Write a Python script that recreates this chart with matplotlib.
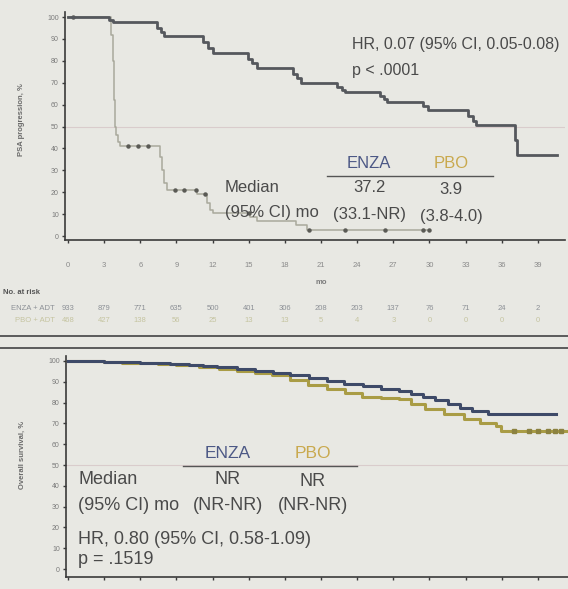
import numpy as np
import matplotlib
matplotlib.use("Agg")
import matplotlib.pyplot as plt
from matplotlib.lines import Line2D

plt.rcParams['font.family'] = ['Liberation Sans', 'DejaVu Sans']

# ---------------- data ----------------
# Top panel: PSA progression (KM steps)
psa_enza_t = [0, 3.4, 3.7, 7.4, 7.7, 8.0, 11.2, 11.6, 12.0, 14.9, 15.3, 15.7, 18.7, 19.0, 19.3,
              22.3, 22.7, 23.0, 25.9, 26.2, 26.5, 29.5, 29.9, 33.2, 33.6, 33.9, 37.1, 37.3, 40.6]
psa_enza_s = [100, 98.8, 97.7, 95, 93, 91.5, 88.5, 86, 83.7, 81, 79, 76.8, 74, 72, 69.8,
              68, 66.8, 65.6, 64, 62.5, 61.3, 59.5, 57.4, 55, 52.5, 50.5, 44, 37.2, 37.2]
psa_pbo_t = [0, 3.6, 3.7, 3.8, 3.9, 4.0, 4.15, 4.3, 7.6, 7.8, 8.0, 8.2, 10.7, 11.5, 11.8, 12.0,
             15.1, 15.7, 18.9, 19.8, 30.0]
psa_pbo_s = [100, 92, 80, 62, 50, 46, 43, 41, 36, 30, 24, 21, 19, 15, 12, 10.6,
             8.5, 6.7, 5.0, 2.6, 2.6]
psa_pbo_cens = [0.4, 5.0, 5.8, 6.6, 8.9, 9.6, 10.6, 11.4, 15.0, 20.0, 23.0, 26.3, 29.5, 30.0]

# Bottom panel: overall survival
os_enza_t = [0, 1.5, 3, 4.5, 6, 7.3, 8.5, 10, 11.2, 12.4, 14, 15.5, 17, 18.4, 20, 21.5, 22.9,
             24.5, 26, 27.5, 28.5, 29.5, 30.5, 31.5, 32.5, 33.5, 34.9, 40.5]
os_enza_s = [100, 99.8, 99.6, 99.4, 99.2, 99.0, 98.5, 98.0, 97.6, 97.3, 96.2, 95.2, 94.2, 93.1,
             91.7, 90.3, 89.0, 87.8, 86.6, 85.5, 84, 82.6, 81.2, 79.4, 77.6, 76, 74.3, 74.3]
os_pbo_t = [0, 1.5, 3, 4.5, 6, 7.5, 9, 10.9, 12.5, 14, 15.5, 16.9, 18.4, 19.9, 21.5, 23, 24.4,
            26, 27.5, 28.5, 29.6, 31.2, 32.9, 34.2, 35.5, 35.9, 41.5]
os_pbo_s = [100, 99.8, 99.5, 99.2, 98.9, 98.5, 97.9, 97.1, 96.2, 95.2, 94.2, 93.3, 91.0, 88.5,
            86.4, 84.5, 82.6, 82.2, 81.6, 79.4, 77.1, 74.5, 72.0, 70.3, 68.6, 66.2, 66.2]
os_pbo_cens = [37.0, 38.3, 39.0, 39.8, 40.4, 40.9]

x_ticks = [0, 3, 6, 9, 12, 15, 18, 21, 24, 27, 30, 33, 36, 39]
y_ticks = [0, 10, 20, 30, 40, 50, 60, 70, 80, 90, 100]
risk_enza = [933, 879, 771, 635, 500, 401, 306, 208, 203, 137, 76, 71, 24, 2]
risk_pbo = [468, 427, 138, 56, 25, 13, 13, 5, 4, 3, 0, 0, 0, 0]

# ---------------- styling ----------------
W, H = 568, 589
BG = '#e8e8e3'
TXT = '#4a4a4a'
C_ENZA_TXT = '#4c5885'
C_PBO_TXT = '#c9a94e'

fig = plt.figure(figsize=(W / 100, H / 100), dpi=100, facecolor=BG)

def fx(px):
    return px / W

def fy(py):
    return 1 - py / H

def step_val(t, s, q):
    i = np.searchsorted(np.asarray(t), q, side='right') - 1
    return np.asarray(s)[i]

def style_axes(ax):
    ax.set_facecolor(BG)
    for sp in ['top', 'right']:
        ax.spines[sp].set_visible(False)
    for sp in ['left', 'bottom']:
        ax.spines[sp].set_color('#3a3a3a')
        ax.spines[sp].set_linewidth(1.2)
    ax.set_yticks(y_ticks)
    ax.tick_params(axis='y', labelsize=5, colors='#3a3a3a', labelcolor='#7a7a7a',
                   length=2.5, width=1, pad=2)
    ax.axhline(50, color='#d9cccc', lw=0.8, zorder=0)

# ---------- top panel ----------
ax1 = fig.add_axes([fx(65), fy(240), fx(500), (240 - 12) / H])
style_axes(ax1)
ax1.set_xlim(-0.25, 41.25)
ax1.set_ylim(-1.8, 102.3)
ax1.set_xticks(x_ticks)
ax1.tick_params(axis='x', labelsize=5.5, colors='#3a3a3a', labelcolor='#8a8a8a',
                length=2.5, width=1, pad=13)
ax1.set_xlabel('mo', fontsize=5.5, color='#7a7a7a', fontweight='bold')
ax1.xaxis.set_label_coords((21 + 0.25) / 41.5, -0.17)

ax1.plot(psa_pbo_t, psa_pbo_s, drawstyle='steps-post', color='#a9a99c', lw=1.1, zorder=2)
ax1.plot(psa_pbo_cens, [step_val(psa_pbo_t, psa_pbo_s, q) for q in psa_pbo_cens],
         ls='none', marker='o', ms=2.2, color='#5a5a55', zorder=3)
ax1.plot(psa_enza_t, psa_enza_s, drawstyle='steps-post', color='#55585d', lw=2.0, zorder=4)

fig.text(fx(22), fy(120), 'PSA progression, %', rotation=90, ha='center', va='center',
         fontsize=5.5, color='#6a6a6a', fontweight='bold')

fig.text(fx(352), fy(45), 'HR, 0.07 (95% CI, 0.05-0.08)', fontsize=11.5, color=TXT,
         ha='left', va='center')
fig.text(fx(352), fy(70), 'p < .0001', fontsize=11.5, color=TXT, ha='left', va='center')

fig.text(fx(369), fy(164), 'ENZA', fontsize=12, color=C_ENZA_TXT, ha='center', va='center')
fig.text(fx(451), fy(164), 'PBO', fontsize=12, color=C_PBO_TXT, ha='center', va='center')
fig.add_artist(Line2D([fx(327), fx(493)], [fy(176), fy(176)], color='#555555', lw=1.0))
fig.text(fx(225), fy(187), 'Median', fontsize=12, color=TXT, ha='left', va='center')
fig.text(fx(369), fy(187), '37.2', fontsize=12, color=TXT, ha='center', va='center')
fig.text(fx(451), fy(189), '3.9', fontsize=12, color=TXT, ha='center', va='center')
fig.text(fx(225), fy(213), '(95% CI) mo', fontsize=12, color=TXT, ha='left', va='center')
fig.text(fx(369), fy(214), '(33.1-NR)', fontsize=12, color=TXT, ha='center', va='center')
fig.text(fx(451), fy(216), '(3.8-4.0)', fontsize=12, color=TXT, ha='center', va='center')

# number at risk
fig.text(fx(3), fy(292), 'No. at risk', fontsize=5.5, color='#555555', fontweight='bold',
         ha='left', va='center')
fig.text(fx(55), fy(308), 'ENZA + ADT', fontsize=5.5, color='#8c9096', ha='right', va='center')
fig.text(fx(55), fy(320), 'PBO + ADT', fontsize=5.5, color='#c5c4a0', ha='right', va='center')
for t, a, b in zip(x_ticks, risk_enza, risk_pbo):
    xf = ax1.transData.transform((t, 0))[0] / fig.dpi / fig.get_figwidth()
    fig.text(xf, fy(308), str(a), fontsize=5.5, color='#8c9096', ha='center', va='center')
    fig.text(xf, fy(320), str(b), fontsize=5.5, color='#c5c4a0', ha='center', va='center')

# separator lines
fig.add_artist(Line2D([0, 1], [fy(336), fy(336)], color='#505050', lw=1.3))
fig.add_artist(Line2D([0, 1], [fy(348), fy(348)], color='#505050', lw=1.3))

# ---------- bottom panel ----------
ax2 = fig.add_axes([fx(66), fy(577), fx(502), (577 - 356) / H])
style_axes(ax2)
ax2.set_xlim(-0.17, 41.5)
ax2.set_ylim(-3.8, 102.4)
ax2.set_xticks(x_ticks)
ax2.tick_params(axis='x', labelbottom=False, colors='#3a3a3a', length=2.5, width=1)

ax2.plot(os_enza_t, os_enza_s, drawstyle='steps-post', color='#3e4a68', lw=2.2, zorder=3)
ax2.plot(os_pbo_t, os_pbo_s, drawstyle='steps-post', color='#a99c45', lw=2.2, zorder=2)
ax2.plot(os_pbo_cens, [step_val(os_pbo_t, os_pbo_s, q) for q in os_pbo_cens],
         ls='none', marker='s', ms=2.2, color='#8c8240', zorder=2)

fig.text(fx(22), fy(455), 'Overall survival, %', rotation=90, ha='center', va='center',
         fontsize=5.5, color='#6a6a6a', fontweight='bold')

fig.text(fx(228), fy(454), 'ENZA', fontsize=12.5, color=C_ENZA_TXT, ha='center', va='center')
fig.text(fx(313), fy(454), 'PBO', fontsize=12.5, color=C_PBO_TXT, ha='center', va='center')
fig.add_artist(Line2D([fx(183), fx(357)], [fy(466), fy(466)], color='#555555', lw=1.0))
fig.text(fx(78), fy(479), 'Median', fontsize=13, color=TXT, ha='left', va='center')
fig.text(fx(228), fy(479), 'NR', fontsize=13, color=TXT, ha='center', va='center')
fig.text(fx(313), fy(481), 'NR', fontsize=13, color=TXT, ha='center', va='center')
fig.text(fx(78), fy(505), '(95% CI) mo', fontsize=13, color=TXT, ha='left', va='center')
fig.text(fx(228), fy(505), '(NR-NR)', fontsize=13, color=TXT, ha='center', va='center')
fig.text(fx(313), fy(506), '(NR-NR)', fontsize=13, color=TXT, ha='center', va='center')
fig.text(fx(78), fy(540), 'HR, 0.80 (95% CI, 0.58-1.09)', fontsize=13, color=TXT,
         ha='left', va='center')
fig.text(fx(78), fy(560), 'p = .1519', fontsize=13, color=TXT, ha='left', va='center')

fig.savefig('out.png', dpi=100, facecolor=BG)
